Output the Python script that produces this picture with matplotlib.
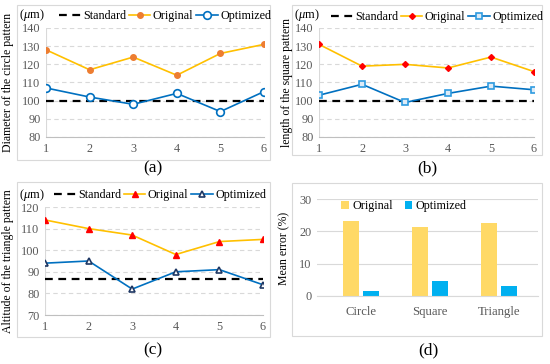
import numpy as np
import matplotlib
matplotlib.use("Agg")
import matplotlib.pyplot as plt
from matplotlib.patches import Rectangle

plt.rcParams['font.family'] = ['Liberation Serif', 'DejaVu Serif']
plt.rcParams['mathtext.fontset'] = 'custom'
plt.rcParams['mathtext.rm'] = 'Liberation Serif'
plt.rcParams['mathtext.it'] = 'Liberation Serif:italic'

# data
samples = [1, 2, 3, 4, 5, 6]
circle_original = [128, 117, 124, 114, 126, 131]
circle_optimized = [107, 102, 98, 104, 94, 105]
circle_standard = 100
square_original = [131, 119, 120, 118, 124, 116]
square_optimized = [103, 109, 99, 104, 108, 106]
square_standard = 100
triangle_original = [114, 110, 107, 98, 104, 105]
triangle_optimized = [94, 95, 82, 90, 91, 84]
triangle_standard = 86.6
shapes = ['Circle', 'Square', 'Triangle']
error_original = [23.3, 21.2, 22.6]
error_optimized = [1.6, 4.7, 3.0]

W, H = 550, 364
fig = plt.figure(figsize=(W / 100, H / 100), dpi=100)

GOLD = '#FFC000'
BLUE = '#0070C0'
TICK = '#595959'


def px_axes(left, top, right, bottom):
    return fig.add_axes([left / W, 1 - bottom / H, (right - left) / W, (bottom - top) / H])


def box(left, top, right, bottom):
    fig.patches.append(Rectangle((left / W, 1 - bottom / H), (right - left) / W, (bottom - top) / H,
                                 transform=fig.transFigure, fill=False, edgecolor='#D9D9D9', lw=0.8))


def style_axes(ax, ylim, yticks):
    ax.set_ylim(*ylim)
    ax.set_yticks(yticks)
    for s in ['top', 'right']:
        ax.spines[s].set_visible(False)
    ax.spines['left'].set_color('#D9D9D9')
    ax.spines['bottom'].set_color('#BFBFBF')
    ax.tick_params(length=0, labelsize=8.8, colors=TICK, pad=4)
    ax.yaxis.grid(True, ls=(0, (4, 3)), color='#D9D9D9', lw=0.8)
    ax.set_axisbelow(True)


def line_panel(rect, ylim, yticks, std, orig, opt, orig_kw, opt_kw, ylabel, ylab_x, leg_xy, unit_xy, tag_xy):
    ax = px_axes(*rect)
    style_axes(ax, ylim, yticks)
    ax.set_xlim(1, 6)
    ax.set_xticks(samples)
    ax.spines['left'].set_visible(False)
    ax.axvline(1, color='#D9D9D9', lw=0.8, zorder=0)
    ax.plot(samples, [std] * len(samples), color='black', ls=(0, (3.5, 2.5)), lw=1.6, label='Standard', zorder=2)
    ax.plot(samples, orig, color=GOLD, lw=1.2, label='Original', zorder=3, **orig_kw)
    ax.plot(samples, opt, color=BLUE, lw=1.2, label='Optimized', zorder=3, **opt_kw)
    fig.text(ylab_x / W, 1 - (rect[1] + rect[3]) / 2 / H, ylabel, rotation=90, ha='center', va='center', fontsize=8.5)
    fig.text(unit_xy[0] / W, 1 - unit_xy[1] / H, r'($\mu$m)', ha='left', va='center', fontsize=9)
    fig.legend(*ax.get_legend_handles_labels(), loc='center', bbox_to_anchor=(leg_xy[0] / W, 1 - leg_xy[1] / H),
               ncol=3, frameon=False, fontsize=8.7, handlelength=1.8, handletextpad=0.2, columnspacing=0.2,
               borderpad=0)
    fig.text(tag_xy[0] / W, 1 - tag_xy[1] / H, tag_xy[2], ha='center', va='center', fontsize=12.5)
    return ax


# panel boxes
box(17, 5, 270, 160)
box(292, 5, 542, 155)
box(17, 182, 270, 337)
box(292, 183, 542, 336)

# (a) circle
line_panel((46, 28, 264, 137), (80, 140), range(80, 141, 10), circle_standard,
           circle_original, circle_optimized,
           dict(marker='o', ms=4, mfc='#ED7D31', mec='#ED7D31'),
           dict(marker='o', ms=5.5, mfc='white', mec=BLUE, mew=1.2),
           'Diameter of the circle pattern', 8, (165, 16), (19, 15), (153, 168, '(a)'))

# (b) square
line_panel((319, 28, 534, 137), (80, 140), range(80, 141, 10), square_standard,
           square_original, square_optimized,
           dict(marker='D', ms=3, mfc='#FF0000', mec='#FF0000'),
           dict(marker='s', ms=5, mfc='#DDEBF7', mec='#2E9BE0', mew=1.2),
           'length of the square pattern', 287, (437, 17), (294, 15), (427, 168, '(b)'))

# (c) triangle
line_panel((45, 207, 263, 315), (70, 120), range(70, 121, 10), triangle_standard,
           triangle_original, triangle_optimized,
           dict(marker='^', ms=4.5, mfc='#FF0000', mec='#FF0000'),
           dict(marker='^', ms=5, mfc='white', mec='#1F3864', mew=1.2),
           'Altitude of the triangle pattern', 8, (160, 195), (19, 195), (153, 350, '(c)'))

# (d) mean error bars
axd = px_axes(317, 199, 538, 296)
style_axes(axd, (0, 30), [0, 10, 20, 30])
axd.yaxis.grid(True, ls='-', color='#D9D9D9', lw=0.8)
axd.spines['left'].set_visible(False)
axd.spines['bottom'].set_color('#D9D9D9')
x = np.arange(len(shapes))
bw = 0.23
axd.bar(x - 0.145, error_original, width=bw, color='#FFD966', label='Original')
axd.bar(x + 0.145, error_optimized, width=bw, color='#00B0F0', label='Optimized')
axd.set_xlim(-0.64, 2.57)
axd.set_xticks(x)
axd.set_xticklabels(shapes)
axd.tick_params(axis='x', pad=7, labelsize=9.2)
fig.text(284 / W, 1 - 248 / H, 'Mean error (%)', rotation=90, ha='center', va='center', fontsize=8.5)
axd.legend(loc='center', bbox_to_anchor=(404 / W, 1 - 206 / H), bbox_transform=fig.transFigure,
           ncol=2, frameon=False, fontsize=8.7, handlelength=0.6, handleheight=0.6,
           handletextpad=0.3, columnspacing=1.0, borderpad=0)
fig.text(428 / W, 1 - 350 / H, '(d)', ha='center', va='center', fontsize=12.5)

fig.savefig('out.png', dpi=100)
